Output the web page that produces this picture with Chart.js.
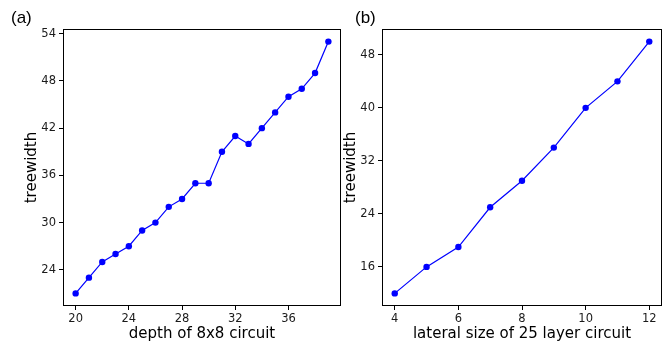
<!DOCTYPE html>
<html><head><meta charset="utf-8">
<script src="https://cdn.jsdelivr.net/npm/chart.js@4"></script>
<style>
html,body{margin:0;padding:0;background:#fff;}
#wrap{position:relative;width:671px;height:341px;overflow:hidden;background:#fff;}
canvas{position:absolute;top:0;}
.lbl{position:absolute;font-family:"Liberation Sans",Arial,sans-serif;font-size:17px;color:#000;line-height:1;}
</style></head><body>
<div id="wrap">
<canvas id="ca" width="345" height="341" style="left:0px"></canvas>
<canvas id="cb" width="336" height="341" style="left:335px"></canvas>
<div class="lbl" style="left:11px;top:9px">(a)</div>
<div class="lbl" style="left:355px;top:9px">(b)</div>
</div>
<script>
// ---- data ----
const depthValues = [20,21,22,23,24,25,26,27,28,29,30,31,32,33,34,35,36,37,38,39];
const depthTreewidth = [21,23,25,26,27,29,30,32,33,35,35,39,41,40,42,44,46,47,49,53];
const depthXTicks = [20,24,28,32,36];
const depthYTicks = [24,30,36,42,48,54];

const lateralSizes = [4,5,6,7,8,9,10,11,12];
const lateralTreewidth = [12,16,19,25,29,34,40,44,50];
const lateralXTicks = [4,6,8,10,12];
const lateralYTicks = [16,24,32,40,48];

const xTitleA = 'depth of 8x8 circuit';
const xTitleB = 'lateral size of 25 layer circuit';
const yTitle = 'treewidth';

// ---- chart builder ----
const frame = {
  id: 'frame',
  afterDraw(chart) {
    const {ctx, chartArea: a} = chart;
    ctx.save();
    ctx.strokeStyle = '#000';
    ctx.lineWidth = 1;
    ctx.strokeRect(Math.round(a.left) + 0.5, Math.round(a.top) + 0.5,
                   Math.round(a.right - a.left) - 1, Math.round(a.bottom - a.top) - 1);
    ctx.restore();
  }
};

function makeChart(id, xs, ys, xTicks, yTicks, xRange, yRange, xTitle, yAxisWidth, yTitlePad, padRight) {
  const tickFont = {family: 'DejaVu Sans', size: 11.5};
  const titleFont = {family: 'DejaVu Sans', size: 15};
  return new Chart(document.getElementById(id), {
    type: 'line',
    data: {
      datasets: [{
        data: xs.map((x, i) => ({x: x, y: ys[i]})),
        borderColor: '#0000ff',
        backgroundColor: '#0000ff',
        borderWidth: 1.2,
        pointRadius: 3.2,
        pointBorderWidth: 0,
        pointBackgroundColor: '#0000ff',
        tension: 0,
        fill: false
      }]
    },
    options: {
      responsive: false,
      devicePixelRatio: 1,
      animation: false,
      events: [],
      layout: {padding: {top: 29, right: padRight, left: 0, bottom: 0}},
      plugins: {legend: {display: false}, tooltip: {enabled: false}, title: {display: false}},
      scales: {
        x: {
          type: 'linear',
          min: xRange[0], max: xRange[1],
          bounds: 'data',
          afterBuildTicks: s => { s.ticks = xTicks.map(v => ({value: v})); },
          afterFit: s => { s.height = 35; },
          grid: {drawOnChartArea: false, drawTicks: true, tickLength: 4, color: '#000', lineWidth: 1},
          border: {display: false},
          ticks: {font: tickFont, color: '#1a1a1a', padding: 2, maxRotation: 0, autoSkip: false},
          title: {display: true, text: xTitle, font: titleFont, color: '#000', padding: {top: 0, bottom: -2}}
        },
        y: {
          type: 'linear',
          min: yRange[0], max: yRange[1],
          bounds: 'data',
          afterBuildTicks: s => { s.ticks = yTicks.map(v => ({value: v})); },
          afterFit: s => { s.width = yAxisWidth; },
          grid: {drawOnChartArea: false, drawTicks: true, tickLength: 4, color: '#000', lineWidth: 1},
          border: {display: false},
          ticks: {font: tickFont, color: '#1a1a1a', padding: 3, autoSkip: false},
          title: {display: true, text: yTitle, font: titleFont, color: '#000', padding: {top: yTitlePad, bottom: 0}}
        }
      }
    },
    plugins: [frame]
  });
}

makeChart('ca', depthValues, depthTreewidth, depthXTicks, depthYTicks,
          [19.05, 39.95], [19.4, 54.6], xTitleA, 63, 23, 3);
makeChart('cb', lateralSizes, lateralTreewidth, lateralXTicks, lateralYTicks,
          [3.6, 12.4], [10.1, 51.9], xTitleB, 47, 7, 9);
</script>
</body></html>
